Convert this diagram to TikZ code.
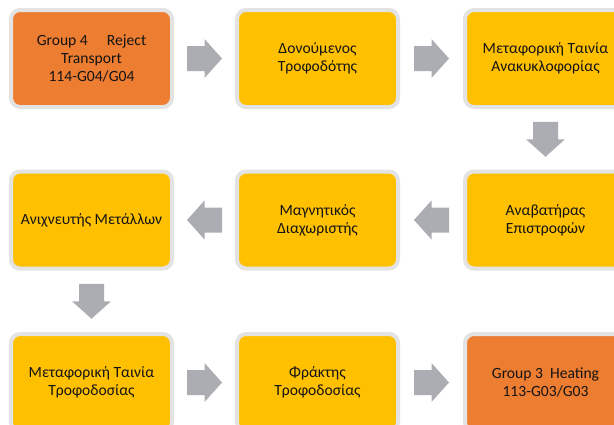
\documentclass[tikz,border=0pt]{standalone}
\usepackage{fontspec}
\setmainfont{Carlito}
\usetikzlibrary{calc}
\definecolor{boxorange}{HTML}{ED7D31}
\definecolor{boxyellow}{HTML}{FFC000}
\definecolor{boxborder}{HTML}{E3E3E3}
\definecolor{arrowgray}{HTML}{ABADB2}
\definecolor{txt}{HTML}{141414}
\tikzset{
  stepbox/.style={rectangle, draw=boxborder, line width=4pt, rounded corners=9pt,
    minimum width=161pt, minimum height=97pt, inner sep=0pt, align=center,
    text=txt, font=\fontsize{15.6pt}{17.8pt}\selectfont},
  yel/.style={stepbox, fill=boxyellow},
  ora/.style={stepbox, fill=boxorange},
  barrow/.pic={\fill[arrowgray] (-17.5,-12.5) -- (0,-12.5) -- (0,-19.5) -- (17.5,0) -- (0,19.5) -- (0,12.5) -- (-17.5,12.5) -- cycle;}
}
\begin{document}
\begin{tikzpicture}[x=1pt,y=-1pt]
\clip (0,0) rectangle (614,424);
\fill[white] (0,0) rectangle (614,424);
\node[ora] (b1) at (91.5,58.5) {Group 4\quad\ Reject\\Transport\\114-G04/G04};
\node[yel] (b2) at (317.5,58.5) {Δονούμενος\\Τροφοδότης};
\node[yel] (b3) at (545.5,58.5) {Μεταφορική Ταινία\\Ανακυκλοφορίας};
\node[yel] (b4) at (545.5,220) {Αναβατήρας\\Επιστροφών};
\node[yel] (b5) at (317.5,220) {Μαγνητικός\\Διαχωριστής};
\node[yel] (b6) at (91.5,220) {Ανιχνευτής Μετάλλων};
\node[yel] (b7) at (91.5,382.5) {Μεταφορική Ταινία\\Τροφοδοσίας};
\node[yel] (b8) at (317.5,382.5) {Φράκτης\\Τροφοδοσίας};
\node[ora] (b9) at (545.5,382.5) {Group 3\ \ Heating\\113-G03/G03};
\path ($(b1.east)!0.5!(b2.west)$) pic {barrow};
\path ($(b2.east)!0.5!(b3.west)$) pic {barrow};
\path ($(b3.south)!0.5!(b4.north)$) pic[rotate=-90] {barrow};
\path ($(b4.west)!0.5!(b5.east)$) pic[rotate=180] {barrow};
\path ($(b5.west)!0.5!(b6.east)$) pic[rotate=180] {barrow};
\path ($(b6.south)!0.5!(b7.north)$) pic[rotate=-90] {barrow};
\path ($(b7.east)!0.5!(b8.west)$) pic {barrow};
\path ($(b8.east)!0.5!(b9.west)$) pic {barrow};
\end{tikzpicture}
\end{document}
